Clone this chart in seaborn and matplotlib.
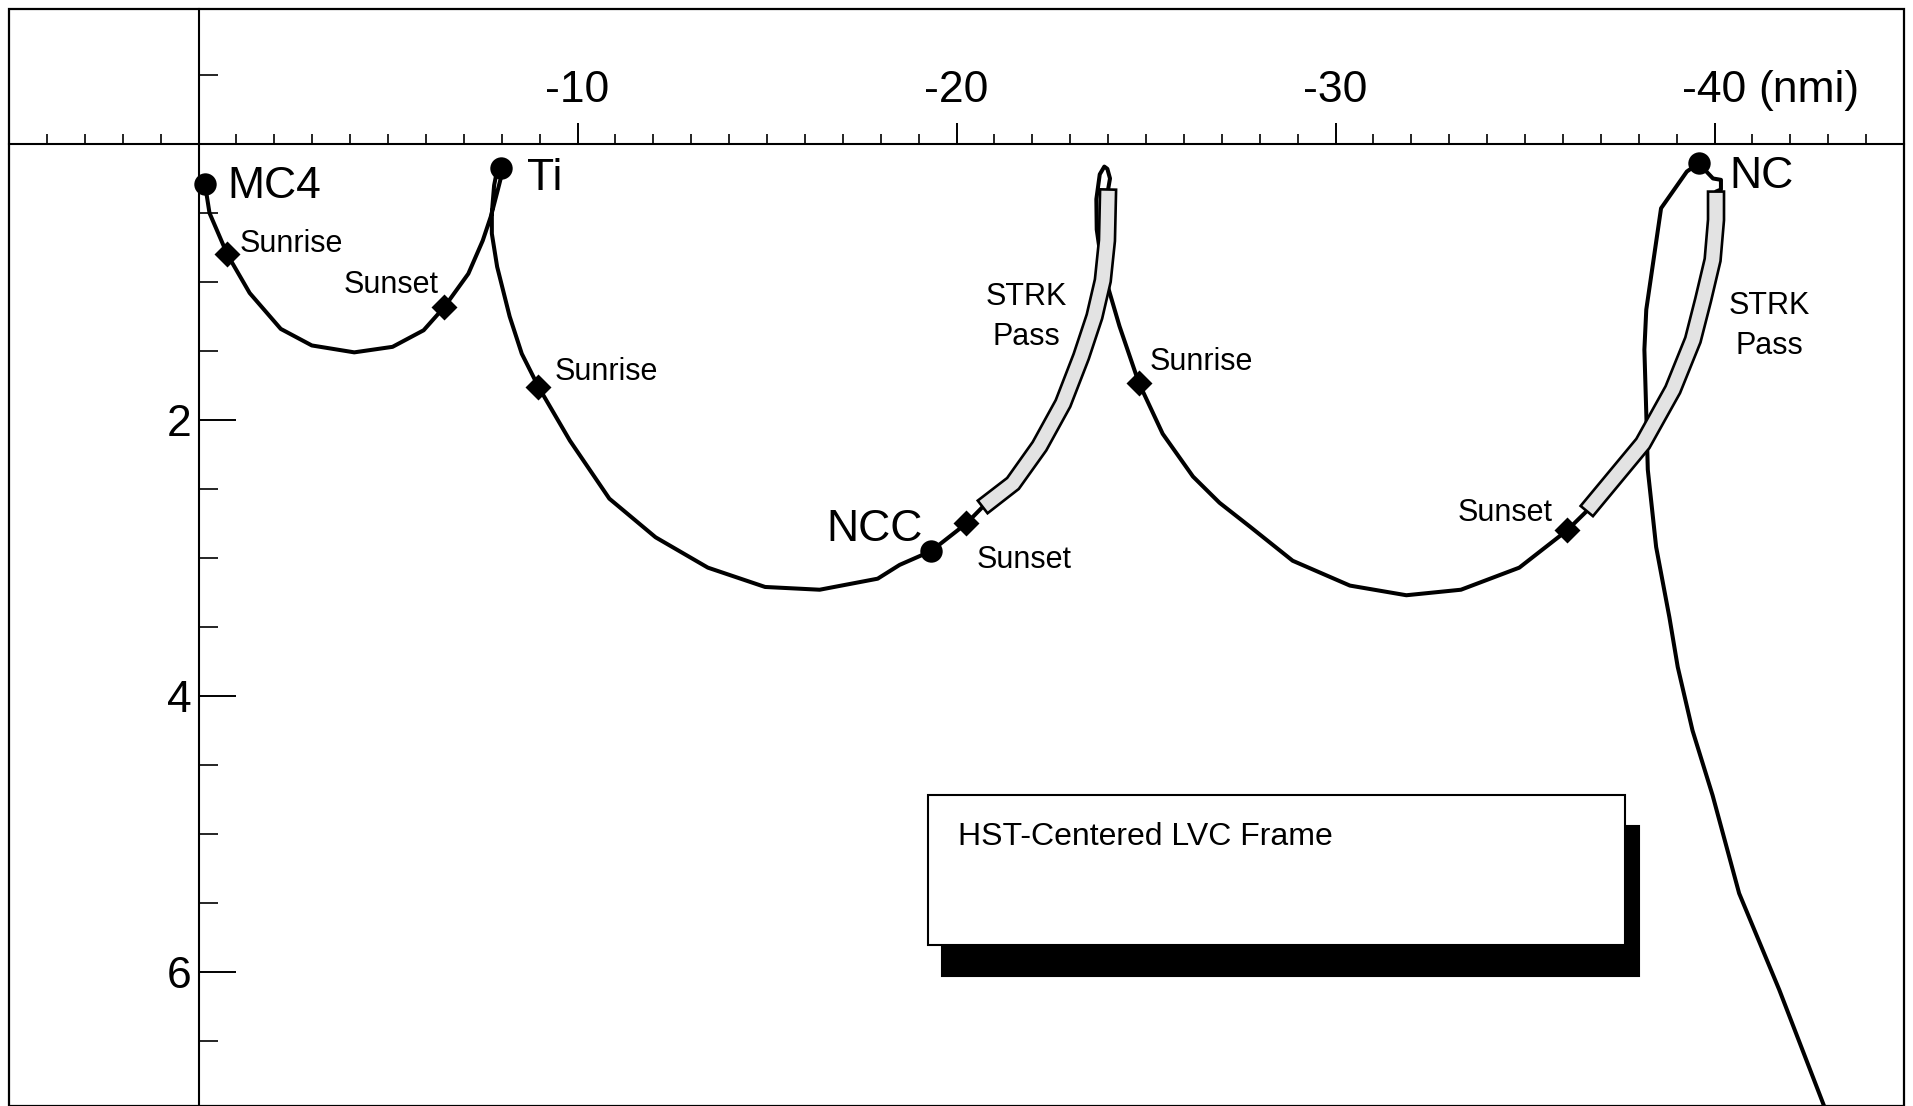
import numpy as np
import matplotlib
matplotlib.use("Agg")
import matplotlib.pyplot as plt
import seaborn as sns
from matplotlib.patches import Polygon, Rectangle
from matplotlib import transforms

sns.set_theme(style="white", rc={"axes.edgecolor": "black", "xtick.color": "black",
                                 "ytick.color": "black", "text.color": "black"})
plt.rcParams["font.family"] = ["Liberation Sans", "DejaVu Sans"]

# ---------------- data (nmi, LVC frame) ----------------
orbit_x = [-0.17, -0.29, -0.76, -1.35, -2.17, -2.99, -4.11, -5.12, -5.94, -6.49,
           -7.12, -7.50, -7.72, -7.90, -8.02, -8.00, -7.90, -7.80, -7.74, -7.74,
           -7.88, -8.21, -8.53, -8.97, -9.80, -10.84, -12.06, -13.44, -14.95, -16.39,
           -17.92, -18.50, -19.33, -20.26, -20.69, -21.49, -22.19, -22.81, -23.29, -23.64,
           -23.86, -23.97, -24.00, -24.05, -23.98, -23.90, -23.78, -23.69, -23.70, -23.82,
           -23.99, -24.30, -24.81, -25.44, -26.24, -26.94, -27.73, -28.87, -30.38, -31.87,
           -33.31, -34.85, -36.11, -36.63, -38.11, -38.90, -39.43, -39.70, -39.95, -40.04,
           -40.04, -40.17, -40.17, -39.96, -39.58, -39.27, -38.59, -38.20, -38.15, -38.20,
           -38.24, -38.46, -38.81, -39.03, -39.42, -39.95, -40.65, -41.71, -42.89]
orbit_y = [0.29, 0.50, 0.80, 1.08, 1.34, 1.46, 1.51, 1.47, 1.35, 1.18,
           0.94, 0.70, 0.52, 0.33, 0.20, 0.15, 0.16, 0.30, 0.50, 0.65,
           0.89, 1.25, 1.52, 1.76, 2.15, 2.57, 2.85, 3.07, 3.21, 3.23,
           3.15, 3.05, 2.95, 2.75, 2.63, 2.46, 2.19, 1.88, 1.54, 1.25,
           0.99, 0.70, 0.33, 0.25, 0.18, 0.164, 0.22, 0.40, 0.62, 0.85,
           1.03, 1.32, 1.73, 2.10, 2.41, 2.60, 2.77, 3.02, 3.20, 3.27,
           3.23, 3.07, 2.80, 2.66, 2.17, 1.78, 1.42, 1.13, 0.84, 0.55,
           0.345, 0.33, 0.26, 0.25, 0.14, 0.20, 0.466, 1.20, 1.49, 1.95,
           2.36, 2.92, 3.43, 3.79, 4.25, 4.72, 5.43, 6.13, 6.97]

strk1_x = [-20.69, -21.49, -22.19, -22.81, -23.29, -23.64, -23.86, -23.97, -24.00]
strk1_y = [2.63, 2.46, 2.19, 1.88, 1.54, 1.25, 0.99, 0.70, 0.33]
strk2_x = [-36.63, -38.11, -38.90, -39.43, -39.70, -39.95, -40.04, -40.04]
strk2_y = [2.66, 2.17, 1.78, 1.42, 1.13, 0.84, 0.55, 0.345]

node_names = ["MC4", "Ti", "NCC", "NC"]
node_x = [-0.17, -7.98, -19.33, -39.58]
node_y = [0.29, 0.177, 2.95, 0.14]

sun_names = ["Sunrise", "Sunset", "Sunrise", "Sunset", "Sunrise", "Sunset"]
sun_x = [-0.76, -6.49, -8.97, -20.26, -24.81, -36.11]
sun_y = [0.80, 1.18, 1.76, 2.75, 1.73, 2.80]

x_major = [-10, -20, -30, -40]
x_major_labels = ["-10", "-20", "-30", "-40"]
y_major = [2, 4, 6]
y_major_labels = ["2", "4", "6"]

# ---------------- figure ----------------
fig = plt.figure(figsize=(19.13, 11.06), dpi=100)
ax = fig.add_axes([9 / 1913, 0, 1895 / 1913, 1097 / 1106])

sns.lineplot(x=orbit_x, y=orbit_y, sort=False, estimator=None, color="black",
             lw=2.9, ax=ax, zorder=2)

ax.set_xlim(5, -45)
ax.set_ylim(6.971, -0.978)


def strk_band(xs, ys, half=8.0):
    P = ax.transData.transform(np.column_stack([xs, ys]))
    d = np.gradient(P, axis=0)
    d /= np.linalg.norm(d, axis=1)[:, None]
    n = np.column_stack([-d[:, 1], d[:, 0]])
    poly = np.vstack([P + n * half, (P - n * half)[::-1]])
    data = ax.transData.inverted().transform(poly)
    ax.add_patch(Polygon(data, closed=True, fc="#e3e3e3", ec="black", lw=1.9,
                         joinstyle="miter", zorder=3))


strk_band(strk1_x, strk1_y)
strk_band(strk2_x, strk2_y)

sns.scatterplot(x=node_x, y=node_y, marker="o", s=260, color="black",
                linewidth=0, ax=ax, zorder=5)
sns.scatterplot(x=sun_x, y=sun_y, marker="D", s=175, color="black",
                linewidth=0, ax=ax, zorder=5)

# ---------------- axes through the origin ----------------
ax.spines["top"].set_position(("data", 0))
ax.spines["left"].set_position(("data", 0))
ax.spines["right"].set_visible(False)
ax.spines["bottom"].set_visible(False)
for s in ["top", "left"]:
    ax.spines[s].set_linewidth(1.5)
    ax.spines[s].set_color("black")

ax.xaxis.tick_top()
ax.set_xticks(x_major)
ax.set_xticklabels(x_major_labels)
ax.set_xticks([v for v in range(4, -45, -1) if v % 10 != 0], minor=True)
ax.tick_params(axis="x", which="major", direction="out", length=15, width=1.4,
               pad=9, labelsize=32, colors="black")
ax.tick_params(axis="x", which="minor", direction="out", length=7.2, width=1.2,
               colors="black")

ax.yaxis.tick_left()
ax.set_yticks(y_major)
ax.set_yticklabels(y_major_labels)
ax.set_yticks([-0.5, 0.5, 1, 1.5, 2.5, 3, 3.5, 4.5, 5, 5.5, 6.5], minor=True)
ax.tick_params(axis="y", which="major", direction="in", length=26.6, width=1.4,
               pad=5, labelsize=32, colors="black")
ax.tick_params(axis="y", which="minor", direction="in", length=13.7, width=1.2,
               colors="black")
ax.set_xlabel("")
ax.set_ylabel("")

ax.annotate("(nmi)", xy=(-40, 0), xycoords="data", xytext=(44, 33.3),
            textcoords="offset pixels", ha="left", va="bottom", fontsize=32)

# outer frame
ax.add_patch(Rectangle((0, 0), 1, 1, transform=ax.transAxes, fill=False,
                       ec="black", lw=1.6, clip_on=False, zorder=6))

# ---------------- labels ----------------
big = 32
small = 22
ax.text(-0.77, 0.39, "MC4", fontsize=big, ha="left", va="baseline")
ax.text(-8.68, 0.33, "Ti", fontsize=big, ha="left", va="baseline")
ax.text(-19.10, 2.88, "NCC", fontsize=big, ha="right", va="baseline")
ax.text(-40.40, 0.32, "NC", fontsize=big, ha="left", va="baseline")

ax.text(-1.08, 0.78, "Sunrise", fontsize=small, ha="left", va="baseline")
ax.text(-3.82, 1.08, "Sunset", fontsize=small, ha="left", va="baseline")
ax.text(-9.39, 1.71, "Sunrise", fontsize=small, ha="left", va="baseline")
ax.text(-20.52, 3.07, "Sunset", fontsize=small, ha="left", va="baseline")
ax.text(-25.09, 1.64, "Sunrise", fontsize=small, ha="left", va="baseline")
ax.text(-35.73, 2.73, "Sunset", fontsize=small, ha="right", va="baseline")

ax.text(-21.84, 1.17, "STRK", fontsize=small, ha="center", va="baseline")
ax.text(-21.84, 1.457, "Pass", fontsize=small, ha="center", va="baseline")
ax.text(-41.44, 1.23, "STRK", fontsize=small, ha="center", va="baseline")
ax.text(-41.44, 1.52, "Pass", fontsize=small, ha="center", va="baseline")

# ---------------- frame-title box ----------------
bx0, bx1, by0, by1 = -19.26, -37.63, 4.717, 5.804
shadow_tr = ax.transData + transforms.ScaledTranslation(14 / 100, -31 / 100, fig.dpi_scale_trans)
ax.add_patch(Rectangle((bx0, by0), bx1 - bx0, by1 - by0, transform=shadow_tr,
                       fc="black", ec="black", lw=1.5, zorder=6))
ax.add_patch(Rectangle((bx0, by0), bx1 - bx0, by1 - by0, fc="white", ec="black",
                       lw=1.5, zorder=7))
ax.text(-20.03, 5.08, "HST-Centered LVC Frame", fontsize=23, ha="left",
        va="baseline", zorder=8)

fig.savefig("out.png", dpi=100)
